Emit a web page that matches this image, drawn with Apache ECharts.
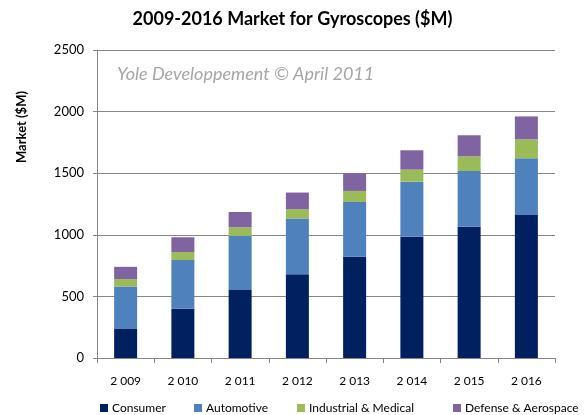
<!DOCTYPE html>
<html>
<head>
<meta charset="utf-8">
<script src="https://cdn.jsdelivr.net/npm/echarts@6/dist/echarts.min.js"></script>
<style>
  html, body { margin: 0; padding: 0; background: #fff; }
  #chart { width: 585px; height: 415px; }
</style>
</head>
<body>
<div id="chart"></div>
<script>
// data
const years = ['2 009', '2 010', '2 011', '2 012', '2 013', '2 014', '2 015', '2 016'];
const consumer   = [240, 400, 552, 680, 822, 985, 1066, 1161];
const automotive = [340, 395, 438, 452, 444, 446, 452, 460];
const industrial = [60, 65, 71, 76, 90, 98, 119, 154];
const defense    = [100, 120, 124, 135, 144, 157, 171, 186];
const yTicks = [0, 500, 1000, 1500, 2000, 2500];

const names = ['Consumer', 'Automotive', 'Industrial & Medical', 'Defense & Aerospace'];
const colors = ['#002060', '#4F81BD', '#9BBB59', '#8064A2'];
const values = [consumer, automotive, industrial, defense];
const legendLeft = [95, 189, 292, 448];

const font = 'Lato, "Open Sans", sans-serif';

const chart = echarts.init(document.getElementById('chart'));

const option = {
  animation: false,
  title: [
    {
      text: '2009-2016 Market for Gyroscopes ($M)',
      left: 'center',
      top: 5,
      textStyle: { fontFamily: font, fontSize: 18, fontWeight: 'bold', color: '#000' }
    },
    {
      text: 'Yole Developpement \u00a9 April 2011',
      left: 112,
      top: 60,
      textStyle: { fontFamily: font, fontSize: 18, fontStyle: 'italic', fontWeight: 'normal', color: '#a6a6a6' }
    }
  ],
  // y axis title sits high up beside the axis, as in the picture
  graphic: [{
    type: 'text',
    x: 22,
    y: 127,
    rotation: Math.PI / 2,
    style: {
      text: 'Market ($M)',
      fontFamily: font,
      fontSize: 13,
      fontWeight: 'bold',
      fill: '#000',
      align: 'center',
      verticalAlign: 'middle'
    }
  }],
  legend: names.map((n, i) => ({
    data: [n],
    left: legendLeft[i],
    top: 397,
    itemWidth: 8,
    itemHeight: 8,
    itemGap: 0,
    icon: 'rect',
    textStyle: { fontFamily: font, fontSize: 12, color: '#000', padding: [0, 0, 0, -1] }
  })),
  grid: { left: 97, right: 30, top: 50, bottom: 57 },
  xAxis: {
    type: 'category',
    data: years,
    axisLine: { lineStyle: { color: '#868686' } },
    axisTick: { show: true, length: 5, alignWithLabel: false, lineStyle: { color: '#868686' } },
    axisLabel: { fontFamily: font, fontSize: 12, color: '#000', margin: 17 }
  },
  yAxis: {
    type: 'value',
    min: yTicks[0],
    max: yTicks[yTicks.length - 1],
    interval: 500,
    axisLine: { show: true, lineStyle: { color: '#868686' } },
    axisTick: { show: true, length: 4, lineStyle: { color: '#868686' } },
    axisLabel: { fontFamily: font, fontSize: 13, color: '#000', margin: 13, formatter: v => String(v) },
    splitLine: { lineStyle: { color: '#868686' } }
  },
  series: names.map((n, i) => ({
    name: n,
    type: 'bar',
    stack: 'total',
    data: values[i],
    barWidth: 23,
    itemStyle: { color: colors[i] }
  }))
};

chart.setOption(option);
</script>
</body>
</html>
